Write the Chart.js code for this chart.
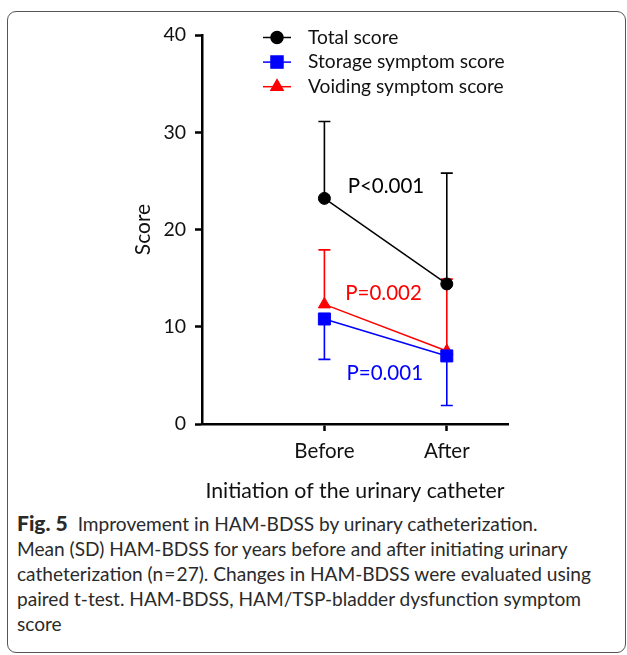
<!DOCTYPE html>
<html>
<head>
<meta charset="utf-8">
<script src="https://cdn.jsdelivr.net/npm/chart.js@4"></script>
<style>
  body { margin: 0; background: #fff; }
  #wrap { position: relative; width: 627px; height: 655px; overflow: hidden; }
  #frame { position: absolute; left: 7px; top: 11px; width: 619px; height: 642px;
           border: 1px solid #555; border-radius: 9px; box-sizing: border-box; }
  #chartBox { position: absolute; left: 0; top: 0; width: 627px; height: 504px; }
  #caption { position: absolute; left: 17px; top: 510px; width: 606px;
             font-family: Lato, "Open Sans", sans-serif; font-size: 19.1px; line-height: 25px; color: #2a2a2a; }
  #caption b { font-weight: 900; font-size: 21px; margin-right: 10px; }
</style>
</head>
<body>
<div id="wrap">
  <div id="frame"></div>
  <div id="chartBox"><canvas id="chart1"></canvas></div>
  <div id="caption"><b>Fig. 5</b>Improvement in HAM-BDSS by urinary catheterization.<br>Mean (SD) HAM-BDSS for years before and after initiating urinary<br>catheterization (n&#8202;=&#8202;27). Changes in HAM-BDSS were evaluated using<br>paired t-test. HAM-BDSS, HAM/TSP-bladder dysfunction symptom<br>score</div>
</div>
<script>
// timepoints
var groups = ['Before', 'After'];

// mean and SD of each score
var totalMean = [23.2, 14.4];
var totalSD = [7.9, 11.4];
var storageMean = [10.8, 7.0];
var storageSD = [4.15, 5.1];
var voidingMean = [12.3, 7.5];
var voidingSD = [5.6, 7.4];

var yTicks = [0, 10, 20, 30, 40];

// p values from paired t-test (total, storage, voiding)
var pLabels = ['P<0.001', 'P=0.001', 'P=0.002'];

var FONT = 'Lato, "Open Sans", sans-serif';

function pts(arr) {
    return arr.map(function (v, i) { return { x: i + 1, y: v }; });
}

// error bars, one direction only (like the figure)
var errorBars = {
    id: 'errorBars',
    beforeDatasetsDraw: function (chart) {
        var ctx = chart.ctx;
        var xs = chart.scales.x, ys = chart.scales.y;
        chart.data.datasets.forEach(function (ds) {
            ds.data.forEach(function (p, i) {
                var x = xs.getPixelForValue(p.x);
                var y0 = ys.getPixelForValue(p.y);
                var y1 = ys.getPixelForValue(p.y + ds.sdDir * ds.sd[i]);
                ctx.save();
                ctx.strokeStyle = ds.borderColor;
                ctx.lineWidth = 1.6;
                ctx.beginPath();
                ctx.moveTo(x, y0);
                ctx.lineTo(x, y1);
                ctx.moveTo(x - 6, y1);
                ctx.lineTo(x + 6, y1);
                ctx.stroke();
                ctx.restore();
            });
        });
    }
};

// legend drawn inside the plot + p value labels
var extras = {
    id: 'extras',
    afterDraw: function (chart) {
        var ctx = chart.ctx;
        var xs = chart.scales.x, ys = chart.scales.y;
        ctx.save();
        chart.data.datasets.forEach(function (ds, i) {
            var cy = 37.5 + i * 24.6;
            ctx.strokeStyle = ds.borderColor;
            ctx.lineWidth = 1.5;
            ctx.beginPath();
            ctx.moveTo(263, cy);
            ctx.lineTo(291, cy);
            ctx.stroke();
            Chart.helpers.drawPoint(ctx, {
                pointStyle: ds.pointStyle, radius: ds.pointRadius, borderWidth: 1,
                rotation: 0
            }, 277, cy);
            ctx.fillStyle = ds.borderColor;
            ctx.fill();
            ctx.fillStyle = '#111';
            ctx.font = '19.2px ' + FONT;
            ctx.textBaseline = 'middle';
            ctx.textAlign = 'left';
            ctx.fillText(ds.label, 308, cy);

            // p label
            ctx.fillStyle = ds.borderColor;
            ctx.font = '20.5px ' + FONT;
            ctx.fillText(pLabels[i], xs.getPixelForValue(ds.pPos[0]), ys.getPixelForValue(ds.pPos[1]));
        });
        ctx.restore();
    }
};

new Chart(document.getElementById('chart1'), {
    type: 'line',
    data: {
        datasets: [
            {
                label: 'Total score', data: pts(totalMean), sd: totalSD, sdDir: 1,
                borderColor: '#000', backgroundColor: '#000', pointStyle: 'circle', pointRadius: 6,
                pPos: [1.19, 24.4]
            },
            {
                label: 'Storage symptom score', data: pts(storageMean), sd: storageSD, sdDir: -1,
                borderColor: '#0000ff', backgroundColor: '#0000ff', pointStyle: 'rect', pointRadius: 8.5,
                pPos: [1.18, 5.25]
            },
            {
                label: 'Voiding symptom score', data: pts(voidingMean), sd: voidingSD, sdDir: 1,
                borderColor: '#ff0000', backgroundColor: '#ff0000', pointStyle: 'triangle', pointRadius: 7,
                pPos: [1.17, 13.4]
            }
        ]
    },
    options: {
        responsive: true,
        maintainAspectRatio: false,
        animation: false,
        layout: { padding: { top: 35, left: 125, right: 119, bottom: 0 } },
        elements: {
            line: { borderWidth: 1.5, tension: 0 },
            point: { borderWidth: 1, hoverRadius: 6 }
        },
        plugins: {
            legend: { display: false },
            tooltip: { enabled: false }
        },
        scales: {
            x: {
                type: 'linear', min: 0, max: 2.5,
                afterBuildTicks: function (scale) {
                    scale.ticks = groups.map(function (g, i) { return { value: i + 1 }; });
                },
                afterFit: function (scale) { scale.height = 80; },
                ticks: {
                    color: '#111', font: { family: FONT, size: 20.5 }, padding: 8,
                    callback: function (v) { return groups[v - 1]; }
                },
                grid: { drawOnChartArea: false, tickLength: 7, tickWidth: 2.5, tickColor: '#000' },
                border: { color: '#000', width: 2.5 },
                title: {
                    display: true, text: 'Initiation of the urinary catheter', color: '#111',
                    font: { family: FONT, size: 21.3 }, padding: { top: 0, bottom: 0 }
                }
            },
            y: {
                min: 0, max: 40,
                afterBuildTicks: function (scale) {
                    scale.ticks = yTicks.map(function (v) { return { value: v }; });
                },
                afterFit: function (scale) { scale.width = 77; },
                ticks: { color: '#111', font: { family: FONT, size: 19.5 }, padding: 9 },
                grid: { drawOnChartArea: false, tickLength: 7, tickWidth: 2.5, tickColor: '#000' },
                border: { color: '#000', width: 2.5 },
                title: {
                    display: true, text: 'Score', color: '#111',
                    font: { family: FONT, size: 21 }, padding: { top: 6, bottom: 0 }
                }
            }
        }
    },
    plugins: [errorBars, extras]
});
</script>
</body>
</html>
